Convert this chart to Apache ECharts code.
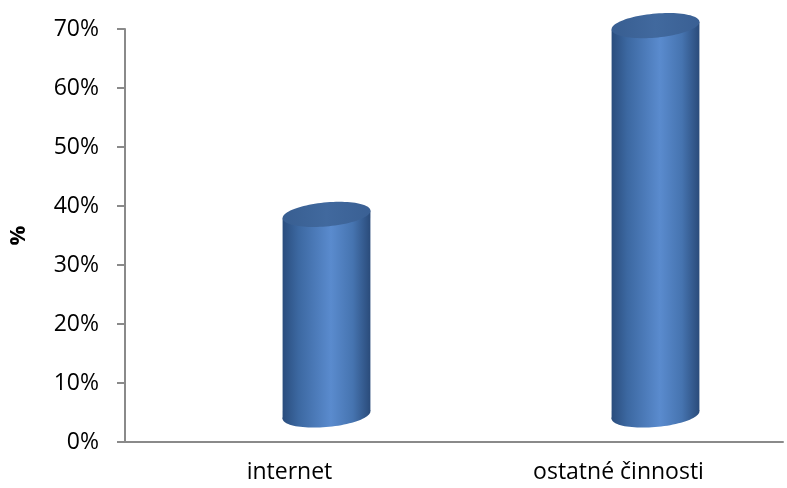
<!DOCTYPE html>
<html>
<head>
<meta charset="utf-8">
<script src="https://cdn.jsdelivr.net/npm/echarts@6/dist/echarts.min.js"></script>
<style>
html,body{margin:0;padding:0;background:#fff;}
#chart{width:787px;height:488px;}
</style>
</head>
<body>
<div id="chart"></div>
<script>
const categories = ['internet', 'ostatné činnosti'];
const shares = [34, 66];
const yTicks = [0, 10, 20, 30, 40, 50, 60, 70];

const FONT = 'Open Sans';
const chart = echarts.init(document.getElementById('chart'));

function ellipsePts(cx, cy, a, b, phi, n) {
  const pts = [];
  for (let k = 0; k < n; k++) {
    const t = (k / n) * Math.PI * 2;
    const x = cx + a * Math.cos(t) * Math.cos(phi) - b * Math.sin(t) * Math.sin(phi);
    const y = cy + a * Math.cos(t) * Math.sin(phi) + b * Math.sin(t) * Math.cos(phi);
    pts.push([x, y]);
  }
  return pts;
}

const bodyGrad = () => new echarts.graphic.LinearGradient(0, 0, 1, 0, [
  { offset: 0, color: '#2a4d7d' },
  { offset: 0.18, color: '#3c68a1' },
  { offset: 0.55, color: '#5a8bce' },
  { offset: 0.8, color: '#4674b0' },
  { offset: 1, color: '#2a4b7a' }
]);
const topGrad = () => new echarts.graphic.LinearGradient(0, 0, 1, 0, [
  { offset: 0, color: '#385e91' },
  { offset: 0.5, color: '#41699e' },
  { offset: 1, color: '#3a6094' }
]);

function renderCyl(params, api) {
  const i = api.value(0), v = api.value(1);
  const base = api.coord([i, 0]);
  const top = api.coord([i, v]);
  const band = api.size([1, 0])[0];
  const a = band * 0.134;
  const b = 12;
  const phi = -0.09;
  const dx = 37, dy = -27;
  const cx = base[0] + dx;
  const yb = base[1] + dy;
  const yt = top[1] + dy;
  const ca = a * Math.cos(phi), sa = a * Math.sin(phi);
  const body = [
    [cx - ca, yt - sa], [cx + ca, yt + sa],
    [cx + ca, yb + sa], [cx - ca, yb - sa]
  ];
  return {
    type: 'group',
    children: [
      { type: 'polygon', shape: { points: ellipsePts(cx, yb, a, b, phi, 90) }, style: { fill: bodyGrad() } },
      { type: 'polygon', shape: { points: body }, style: { fill: bodyGrad() } },
      { type: 'polygon', shape: { points: ellipsePts(cx, yt, a, b, phi, 90) }, style: { fill: topGrad() } }
    ]
  };
}

chart.setOption({
  animation: false,
  backgroundColor: '#ffffff',
  grid: { left: 118, right: 4, top: 29, bottom: 46, containLabel: false },
  xAxis: {
    type: 'category',
    data: categories,
    boundaryGap: true,
    axisLine: { show: true, lineStyle: { color: '#8a8a8a', width: 2 } },
    axisTick: { show: false },
    axisLabel: { color: '#000', fontFamily: FONT, fontSize: 23, margin: 19 },
    splitLine: { show: false }
  },
  yAxis: {
    type: 'value',
    min: yTicks[0],
    max: yTicks[yTicks.length - 1],
    interval: 10,
    name: '%',
    nameLocation: 'middle',
    nameGap: 95,
    nameRotate: 90,
    nameTextStyle: { color: '#000', fontFamily: FONT, fontSize: 22, fontWeight: 'bold' },
    axisLine: { show: true, lineStyle: { color: '#8a8a8a', width: 2 } },
    axisTick: { show: true, inside: false, length: 8, lineStyle: { color: '#8a8a8a', width: 2 } },
    axisLabel: { color: '#000', fontFamily: FONT, fontSize: 23, margin: 26, formatter: '{value}%' },
    splitLine: { show: false }
  },
  series: [{
    type: 'custom',
    clip: false,
    renderItem: renderCyl,
    encode: { x: 0, y: 1 },
    data: shares.map((s, i) => [i, s])
  }]
});
</script>
</body>
</html>
